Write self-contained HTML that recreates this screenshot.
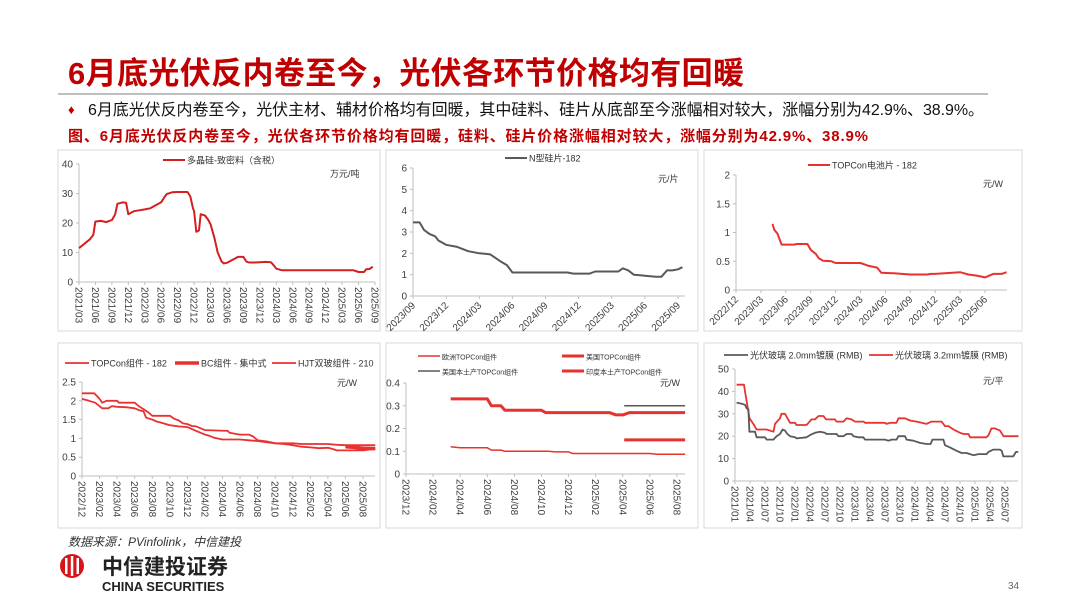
<!DOCTYPE html>
<html><head><meta charset="utf-8"><style>
body{margin:0;background:#fff;}
svg{display:block;font-family:"Liberation Sans","Noto Sans CJK SC",sans-serif;}
</style></head><body>
<svg id="s" width="1080" height="608" viewBox="0 0 1080 608" xmlns="http://www.w3.org/2000/svg">
<text x="68" y="84" font-size="31" font-weight="bold" fill="#c00000" textLength="676">6月底光伏反内卷至今，光伏各环节价格均有回暖</text>
<line x1="58" y1="94" x2="988" y2="94" stroke="#999" stroke-width="1.2"/>
<text x="68" y="114" font-size="13" fill="#c00000">♦</text>
<text x="88" y="115" font-size="16" fill="#111" textLength="896">6月底光伏反内卷至今，光伏主材、辅材价格均有回暖，其中硅料、硅片从底部至今涨幅相对较大，涨幅分别为42.9%、38.9%。</text>
<text x="68" y="141" font-size="15" font-weight="bold" fill="#c00000" textLength="800">图、6月底光伏反内卷至今，光伏各环节价格均有回暖，硅料、硅片价格涨幅相对较大，涨幅分别为42.9%、38.9%</text>
<g id="charts"></g>
<text x="68" y="546" font-size="12" font-style="italic" fill="#333">数据来源：PVinfolink，中信建投</text>
<g>
<circle cx="72" cy="566" r="12" fill="#d7141a"/>
<rect x="65" y="558" width="2.5" height="16" fill="#fff"/><rect x="70.8" y="556" width="2.5" height="20" fill="#fff"/><rect x="76.5" y="558" width="2.5" height="16" fill="#fff"/>
<text x="102" y="574" font-size="21" font-weight="bold" fill="#222">中信建投证券</text>
<text x="102" y="591" font-size="13" font-weight="bold" fill="#222">CHINA SECURITIES</text>
</g>
<text x="1008" y="589" font-size="10" fill="#666">34</text>
</svg>
<script>
// ---- chart 1: polysilicon (months from 2021/03) ----
const c1Months=[0,1,2,2.6,3,4,5,5.5,6,6.6,7,8,8.6,9,10,11,12,13,14,15,15.6,16,17,18,19,19.8,20.3,20.8,21,21.4,21.9,22.2,23,23.6,24,24.7,25.3,26,26.4,27,28,29,30,30.5,31,32,33,34,35,35.6,36,37,40,44,48,50,51,52,52.4,53,53.6];
const c1Vals=[11.5,13,14.5,16,20.5,20.7,20.3,20.7,21,23,26.5,27,26.8,23,24,24.3,24.6,25,26,27,28.8,29.8,30.4,30.5,30.5,30.5,29,25,24,17,17.5,23,22.5,21,19.5,15,10,7,6.3,6.5,7.5,8.5,8.5,7,6.6,6.6,6.7,6.8,6.7,5.5,4.5,4,4,4,4,4,3.4,3.4,4.3,4.4,5.2];
const c1Ticks=["2021/03","2021/06","2021/09","2021/12","2022/03","2022/06","2022/09","2022/12","2023/03","2023/06","2023/09","2023/12","2024/03","2024/06","2024/09","2024/12","2025/03","2025/06","2025/09"];
// ---- chart 2: N-type wafer (months from 2023/09) ----
const c2Months=[0,0.6,1,1.5,2,2.3,3,4,5,6,6.5,7,8,8.5,9,10,12,14,14.5,15,16,16.5,18,18.6,19,19.5,20,21,22,22.5,23,23.5,24,24.4];
const c2Vals=[3.45,3.45,3.1,2.9,2.8,2.6,2.4,2.3,2.1,2.0,1.98,1.95,1.6,1.45,1.1,1.1,1.1,1.1,1.05,1.05,1.05,1.15,1.15,1.15,1.3,1.2,1.0,0.95,0.9,0.9,1.2,1.2,1.25,1.35];
const c2Ticks=["2023/09","2023/12","2024/03","2024/06","2024/09","2024/12","2025/03","2025/06","2025/09"];
// ---- chart 3: TOPCon cell (months from 2022/12) ----
const c3Months=[4.4,4.6,5,5.5,7,7.3,8.6,9,9.6,10,10.5,11.5,12,15,16,17,17.5,19,20,21,23,23.5,24,27,28,29,30,31,32,32.6];
const c3Vals=[1.15,1.05,0.98,0.79,0.79,0.8,0.8,0.7,0.63,0.55,0.51,0.5,0.47,0.47,0.42,0.39,0.3,0.29,0.28,0.27,0.27,0.28,0.28,0.31,0.27,0.25,0.22,0.28,0.28,0.31];
const c3Ticks=["2022/12","2023/03","2023/06","2023/09","2023/12","2024/03","2024/06","2024/09","2024/12","2025/03","2025/06"];
// ---- chart 4: modules (months from 2022/12) ----
const c4HjtMonths=[0,1.4,2,2.3,2.8,4,4.2,6,6.5,7,7.5,8,10,10.5,11,11.5,12,12.5,13,14,16.6,16.8,17.5,18,19,19.5,20,21,22,24,25,28,29,30,33.4];
const c4HjtVals=[2.2,2.2,2.05,1.95,2.0,2.0,1.95,1.95,1.85,1.78,1.7,1.6,1.6,1.52,1.48,1.4,1.38,1.33,1.32,1.22,1.2,1.15,1.12,1.1,1.1,1.05,0.95,0.92,0.87,0.87,0.85,0.85,0.83,0.82,0.82];
const c4TopMonths=[0,0.8,1.5,2.3,3,3.4,4,5,6,6.5,7,7.3,8,8.5,9,10,11,12,13,14,14.5,15,16,18,19,20,21,22,23,24,25,26,27,28,28.5,29,32,33.4];
const c4TopVals=[2.05,2.0,1.95,1.8,1.8,1.86,1.84,1.83,1.8,1.75,1.72,1.55,1.5,1.45,1.42,1.35,1.32,1.3,1.2,1.1,1.07,1.02,0.97,0.97,0.95,0.93,0.9,0.87,0.85,0.82,0.78,0.76,0.74,0.75,0.72,0.68,0.68,0.72];
const c4BcMonths=[30,31,32,33.4];
const c4BcVals=[0.78,0.76,0.74,0.73];
const c4Ticks=["2022/12","2023/02","2023/04","2023/06","2023/08","2023/10","2023/12","2024/02","2024/04","2024/06","2024/08","2024/10","2024/12","2025/02","2025/04","2025/06","2025/08"];
// ---- chart 5: overseas TOPCon modules (months from 2023/12) ----
const c5EuMonths=[3.3,4,6,6.3,7,7.3,10,10.5,11,12,12.3,15,18,18.5,20.6];
const c5EuVals=[0.12,0.115,0.115,0.105,0.105,0.1,0.1,0.1,0.097,0.097,0.09,0.09,0.09,0.087,0.087];
const c5UsMonths=[3.3,6,6.3,7,7.3,10,10.3,15,15.5,16,16.5,20.6];
const c5UsVals=[0.33,0.33,0.3,0.3,0.28,0.28,0.27,0.27,0.26,0.26,0.27,0.27];
const c5UsLocalMonths=[16.1,20.6];
const c5UsLocalVals=[0.3,0.3];
const c5InMonths=[16.1,20.6];
const c5InVals=[0.15,0.15];
const c5Ticks=["2023/12","2024/02","2024/04","2024/06","2024/08","2024/10","2024/12","2025/02","2025/04","2025/06","2025/08"];
// ---- chart 6: PV glass (months from 2021/01) ----
const c6RedMonths=[0.33,1.8,2,2.9,3.8,4.3,6.3,7.7,8,9,9.3,10,10.5,11,12,12.3,14.3,14.7,15.3,16,16.7,17.7,18.2,20,20.3,21.7,22.3,23.3,24,24.2,25.7,26,30,30.3,31,32.3,32.7,34,35,36.3,37.3,38.3,39.3,41.3,42,42.7,43.7,45,45.7,46.7,47,50.3,50.7,51.3,52,53,53.7,56.7];
const c6RedVals=[43,43,40,28,25,23,23,22,25.5,28,30,30,28,26,26,25,25,26,27.5,27.5,29,29,27.5,27.5,26.5,26.5,28,27.5,26.5,26.5,26.5,26,26,25.5,26,26,28,28,27,26.5,26,25.5,26.5,26.5,24.5,24.5,23,21.5,21,21,19.5,19.5,20.5,23.5,23.5,22.5,20,20];
const c6GrayMonths=[0.33,1.33,2,2.33,2.67,2.87,4,4.33,6,6.33,7.67,8.33,9,9.53,10,10.47,11,12,12.33,14.33,15,16,17,18,18.33,20.33,20.67,21.67,22.33,23.33,23.67,24.67,25.67,26,30,30.67,31.33,32.33,32.67,34,34.33,35.67,37,38.33,39.13,39.47,41.67,42,43,44.33,45.33,46.33,47,47.67,48.67,50.33,50.67,51.67,53,53.33,53.67,55.67,56.2,56.67];
const c6GrayVals=[35,34.5,34,32.5,32,22,22,19.5,19.5,18.5,18.5,20,21,23,22.5,21,20,19.5,19,19.5,20.5,21.5,22,21.5,21,21,20,20,21,21,20,19.5,19.5,18.5,18.5,18,18.5,18.5,20,20,18.5,18,17,16.5,16.5,18.5,18.5,16,15,13.5,12.5,12.5,12,11.5,12,12,13,14,14,13.5,11,11,13,13];
const c6Ticks=["2021/01","2021/04","2021/07","2021/10","2022/01","2022/04","2022/07","2022/10","2023/01","2023/04","2023/07","2023/10","2024/01","2024/04","2024/07","2024/10","2025/01","2025/04","2025/07"];

const NS="http://www.w3.org/2000/svg";
const root=document.getElementById('charts');
const RED="#e8322f",GRAY="#595959";
function mk(tag,attrs,parent){const e=document.createElementNS(NS,tag);for(const k in attrs)e.setAttribute(k,attrs[k]);(parent||root).appendChild(e);return e;}

function chart(cfg){
  const g=mk('g',{});
  
  
  const box=mk('rect',{x:cfg.box[0],y:cfg.box[1],width:cfg.box[2],height:cfg.box[3],fill:'#fff',stroke:'#d9d9d9','stroke-width':1},g);
  
  
  const xs=m=>cfg.x0+m*(cfg.x1-cfg.x0)/cfg.mSpan;
  const ys=v=>cfg.yb-v*(cfg.yb-cfg.yt)/cfg.vmax;
  const xEnd=cfg.xEnd;
  const ya=mk('line',{x1:cfg.x0,y1:cfg.yt,x2:cfg.x0,y2:cfg.yb,stroke:'#bfbfbf'},g);
  
  
  for(let v=0;v<=cfg.vmax+1e-9;v+=cfg.vstep){
    const y=ys(v);
    mk('line',{x1:cfg.x0-3,y1:y,x2:cfg.x0,y2:y,stroke:'#bfbfbf'},g);
    const t=mk('text',{x:cfg.x0-6,y:y+3.5,'font-size':10,fill:'#404040','text-anchor':'end'},g);
    t.textContent=String(+v.toFixed(2));
    
    
  }
  const xa=mk('line',{x1:cfg.x0,y1:cfg.yb,x2:xEnd,y2:cfg.yb,stroke:'#bfbfbf'},g);
  
  
  cfg.ticks.forEach((lab,i)=>{
    const x=xs(i*cfg.tstep);
    mk('line',{x1:x,y1:cfg.yb,x2:x,y2:cfg.yb+3,stroke:'#bfbfbf'},g);
    let t;
    if(cfg.rot===90){t=mk('text',{x:x,y:cfg.yb+5,'font-size':10,fill:'#404040',transform:`rotate(90 ${x} ${cfg.yb+5}) translate(0 3.5)`},g);}
    else{t=mk('text',{x:x+3,y:cfg.yb+10,'font-size':10,fill:'#404040','text-anchor':'end',transform:`rotate(-45 ${x+3} ${cfg.yb+10})`},g);}
    t.textContent=lab;
    
    
  });
  cfg.series.forEach(s=>{
    const d=s.m.map((m,i)=>(i?'L':'M')+xs(m).toFixed(1)+','+ys(s.v[i]).toFixed(1)).join('');
    const p=mk('path',{d:d,fill:'none',stroke:s.c,'stroke-width':s.w,'stroke-linejoin':'round'},g);
    
    
  });
  cfg.legend.forEach(L=>{
    const lg=mk('g',{},g);
    
    
    mk('line',{x1:L.x,y1:L.y,x2:L.x+L.len,y2:L.y,stroke:L.c,'stroke-width':L.w},lg);
    const t=mk('text',{x:L.x+L.len+2,y:L.y+3.5,'font-size':L.fs||10,fill:'#333'},lg);
    t.textContent=L.t;
  });
  const u=mk('text',{x:cfg.unit[0],y:cfg.unit[1],'font-size':9,fill:'#333'},g);
  u.textContent=cfg.unit[2];
  
  
}

chart({name:'polysilicon-chart',box:[58,150,322,181],x0:79,x1:375,mSpan:54,xEnd:375,yb:282,yt:164,vmax:40,vstep:10,ticks:c1Ticks,tstep:3,rot:90,
  series:[{n:'polysilicon-line',m:c1Months,v:c1Vals,c:'#d41f1f',w:2}],
  legend:[{x:163,y:160,len:22,c:'#d41f1f',w:2,t:'多晶硅-致密料（含税）',fs:9}],unit:[330,177,'万元/吨']});
chart({name:'wafer-chart',box:[386,150,312,181],x0:413,x1:678,mSpan:24,xEnd:685,yb:296,yt:168,vmax:6,vstep:1,ticks:c2Ticks,tstep:3,rot:-45,
  series:[{n:'n-wafer-line',m:c2Months,v:c2Vals,c:GRAY,w:2}],
  legend:[{x:505,y:158,len:22,c:GRAY,w:2,t:'N型硅片-182',fs:9}],unit:[658,182,'元/片']});
chart({name:'cell-chart',box:[704,150,318,181],x0:736,x1:985,mSpan:30,xEnd:1007,yb:290,yt:175,vmax:2,vstep:0.5,ticks:c3Ticks,tstep:3,rot:-45,
  series:[{n:'topcon-cell-line',m:c3Months,v:c3Vals,c:RED,w:2}],
  legend:[{x:808,y:165,len:22,c:RED,w:2,t:'TOPCon电池片 - 182',fs:9}],unit:[983,187,'元/W']});
chart({name:'module-chart',box:[58,343,322,185],x0:82,x1:363,mSpan:32,xEnd:375,yb:476,yt:382,vmax:2.5,vstep:0.5,ticks:c4Ticks,tstep:2,rot:90,
  series:[{n:'hjt-module-line',m:c4HjtMonths,v:c4HjtVals,c:RED,w:1.8},{n:'topcon-module-line',m:c4TopMonths,v:c4TopVals,c:RED,w:1.8},{n:'bc-module-line',m:c4BcMonths,v:c4BcVals,c:RED,w:3.5}],
  legend:[{x:65,y:363,len:24,c:RED,w:1.8,t:'TOPCon组件 - 182',fs:9},{x:175,y:363,len:24,c:RED,w:3.5,t:'BC组件 - 集中式',fs:9},{x:272,y:363,len:24,c:RED,w:1.8,t:'HJT双玻组件 - 210',fs:9}],unit:[337,386,'元/W']});
chart({name:'overseas-module-chart',box:[386,343,312,185],x0:406,x1:677,mSpan:20,xEnd:685,yb:474,yt:383,vmax:0.4,vstep:0.1,ticks:c5Ticks,tstep:2,rot:90,
  series:[{n:'europe-topcon-line',m:c5EuMonths,v:c5EuVals,c:RED,w:1.5},{n:'us-topcon-line',m:c5UsMonths,v:c5UsVals,c:RED,w:3},{n:'us-local-topcon-line',m:c5UsLocalMonths,v:c5UsLocalVals,c:GRAY,w:1.5},{n:'india-local-topcon-line',m:c5InMonths,v:c5InVals,c:RED,w:3}],
  legend:[{x:418,y:356,len:22,c:RED,w:1.5,t:'欧洲TOPCon组件',fs:7},{x:562,y:356,len:22,c:RED,w:3,t:'美国TOPCon组件',fs:7},{x:418,y:371,len:22,c:GRAY,w:1.5,t:'美国本土产TOPCon组件',fs:7},{x:562,y:371,len:22,c:RED,w:3,t:'印度本土产TOPCon组件',fs:7}],unit:[660,386,'元/W']});
chart({name:'pv-glass-chart',box:[704,343,318,185],x0:735,x1:1005,mSpan:54,xEnd:1018,yb:481,yt:369,vmax:50,vstep:10,ticks:c6Ticks,tstep:3,rot:90,
  series:[{n:'glass-3.2mm-line',m:c6RedMonths,v:c6RedVals,c:RED,w:1.8},{n:'glass-2.0mm-line',m:c6GrayMonths,v:c6GrayVals,c:GRAY,w:1.8}],
  legend:[{x:724,y:355,len:24,c:GRAY,w:1.8,t:'光伏玻璃 2.0mm镀膜 (RMB)',fs:9},{x:869,y:355,len:24,c:RED,w:1.8,t:'光伏玻璃 3.2mm镀膜 (RMB)',fs:9}],unit:[983,384,'元/平']});
</script>
</body></html>
